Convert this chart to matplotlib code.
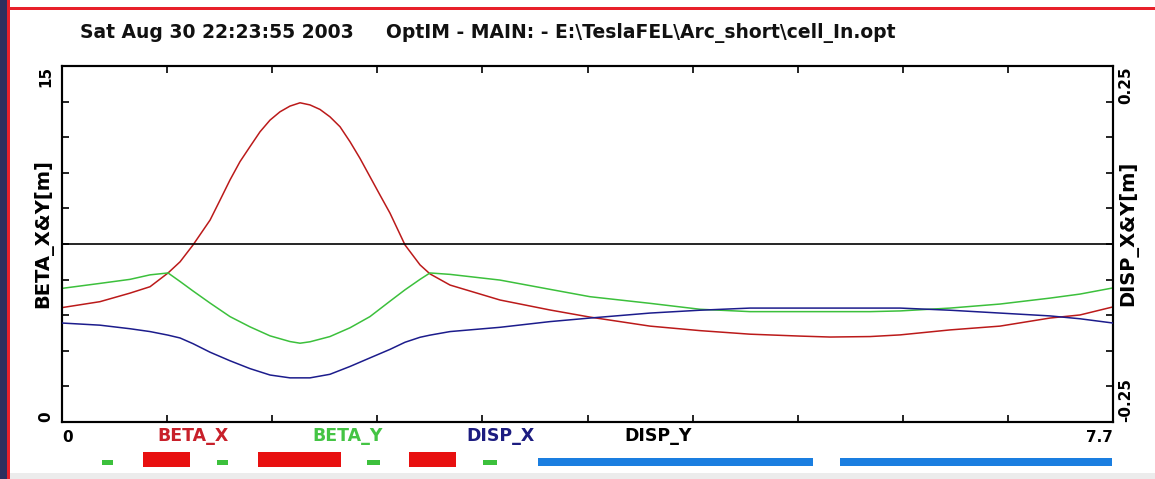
import matplotlib
matplotlib.use("Agg")
import matplotlib.pyplot as plt
from matplotlib.patches import Rectangle
import matplotlib.transforms as mtransforms
import numpy as np

# ---------------- data ----------------
s_beta_x = [0.000, 0.278, 0.498, 0.645, 0.777, 0.865, 0.960, 1.085, 1.158, 1.231,
            1.304, 1.377, 1.451, 1.524, 1.597, 1.670, 1.744, 1.817, 1.890, 1.963,
            2.037, 2.110, 2.183, 2.256, 2.330, 2.403, 2.513, 2.623, 2.696, 2.843,
            3.209, 3.575, 3.868, 4.308, 4.674, 5.041, 5.407, 5.627, 5.920, 6.140,
            6.506, 6.872, 7.238, 7.458, 7.700]
beta_x = [4.82, 5.07, 5.43, 5.70, 6.28, 6.75, 7.46, 8.51, 9.35, 10.20,
          10.97, 11.60, 12.23, 12.72, 13.07, 13.31, 13.45, 13.36, 13.17, 12.86,
          12.44, 11.81, 11.11, 10.34, 9.56, 8.80, 7.46, 6.62, 6.24, 5.77,
          5.14, 4.72, 4.42, 4.04, 3.85, 3.70, 3.62, 3.58, 3.60, 3.67,
          3.88, 4.04, 4.38, 4.51, 4.85]

s_pos = [0.000, 0.278, 0.498, 0.645, 0.777, 0.865, 0.960, 1.085, 1.231, 1.377,
         1.524, 1.670, 1.744, 1.817, 1.963, 2.110, 2.256, 2.403, 2.513, 2.623,
         2.696, 2.843, 3.209, 3.575, 3.868, 4.308, 4.674, 5.041, 5.407, 5.627,
         5.920, 6.140, 6.506, 6.872, 7.238, 7.458, 7.700]

beta_y = [5.63, 5.84, 6.01, 6.20, 6.28, 5.92, 5.52, 5.01, 4.44, 4.01,
          3.63, 3.39, 3.32, 3.38, 3.60, 3.97, 4.44, 5.09, 5.57, 6.01,
          6.28, 6.22, 5.98, 5.59, 5.28, 5.00, 4.75, 4.65, 4.65, 4.65,
          4.65, 4.68, 4.80, 4.97, 5.22, 5.39, 5.65]

disp_x = [-0.111, -0.114, -0.119, -0.123, -0.128, -0.132, -0.140, -0.152, -0.164, -0.175,
          -0.184, -0.188, -0.188, -0.188, -0.183, -0.172, -0.160, -0.148, -0.138, -0.131,
          -0.128, -0.123, -0.117, -0.109, -0.104, -0.097, -0.093, -0.090, -0.090, -0.090,
          -0.090, -0.090, -0.093, -0.097, -0.101, -0.105, -0.111]

disp_y = [0.0] * len(s_pos)

series_names = ["BETA_X", "BETA_Y", "DISP_X", "DISP_Y"]
series_colors = ["#bb1a1a", "#3cc03c", "#1c1c8c", "#000000"]
label_colors = ["#c8202a", "#44c444", "#1c1c80", "#000000"]
label_x = [0.963, 2.092, 3.216, 4.37]

# magnets: (start, end) along s
bend_dipoles = [(0.593, 0.938), (1.434, 2.044), (2.542, 2.887)]
quads = [(0.291, 0.376), (1.133, 1.216), (2.232, 2.330), (3.085, 3.187)]
long_elems = [(3.487, 5.502), (5.700, 7.690)]

s_max = 7.7
beta_max = 15.0
disp_lim = 0.25

title_left = "Sat Aug 30 22:23:55 2003"
title_right = "OptIM - MAIN: - E:\\TeslaFEL\\Arc_short\\cell_In.opt"

# ---------------- figure ----------------
W, H = 1155, 479
fig = plt.figure(figsize=(W / 100, H / 100), dpi=100)
fig.patch.set_facecolor("white")

def fx(px):
    return px / W

def fy(py):
    return 1 - py / H

# frame decorations
fig.patches.append(Rectangle((0, 0), fx(7), 1, transform=fig.transFigure,
                             facecolor="#2d2f5e", edgecolor="none", zorder=0))
fig.patches.append(Rectangle((fx(7), 0), fx(3), 1, transform=fig.transFigure,
                             facecolor="#e8202a", edgecolor="none", zorder=0))
fig.patches.append(Rectangle((fx(7), fy(10)), 1, 3 / H, transform=fig.transFigure,
                             facecolor="#e8202a", edgecolor="none", zorder=0))
fig.patches.append(Rectangle((fx(10), 0), 1, 6 / H, transform=fig.transFigure,
                             facecolor="#ececec", edgecolor="none", zorder=0))

bold = dict(family="DejaVu Sans", weight="bold")

fig.text(fx(80), fy(33), title_left, ha="left", va="center", fontsize=13.5,
         color="#111111", **bold)
fig.text(fx(386), fy(33), title_right, ha="left", va="center", fontsize=13.5,
         color="#111111", **bold)

# main axes
ax = fig.add_axes([fx(62), fy(422), (1113 - 62) / W, (422 - 66) / H])
ax2 = ax.twinx()

ax.plot(s_beta_x, beta_x, color=series_colors[0], lw=1.1, zorder=3)
ax.plot(s_pos, beta_y, color=series_colors[1], lw=1.1, zorder=3)
ax2.plot(s_pos, disp_x, color=series_colors[2], lw=1.1, zorder=3)
ax2.plot(s_pos, disp_y, color=series_colors[3], lw=1.2, zorder=3)

ax.set_xlim(0, s_max)
ax.set_ylim(0, beta_max)
ax2.set_ylim(-disp_lim, disp_lim)

xt = np.linspace(0, s_max, 11)
ax.set_xticks(xt)
ax.set_xticklabels(["0"] + [""] * 9 + ["7.7"])
yt = np.linspace(0, beta_max, 11)
ax.set_yticks(yt)
ax.set_yticklabels(["0"] + [""] * 9 + ["15"])
y2t = np.linspace(-disp_lim, disp_lim, 11)
ax2.set_yticks(y2t)
ax2.set_yticklabels(["-0.25"] + [""] * 9 + ["0.25"])

for a in (ax, ax2):
    for sp in a.spines.values():
        sp.set_linewidth(1.5)
        sp.set_color("black")

ax.tick_params(axis="x", direction="in", length=5, width=1.2, top=True,
               labelsize=11, pad=6)
ax.tick_params(axis="y", direction="in", length=5, width=1.2, labelsize=11,
               labelrotation=90, pad=6)
ax2.tick_params(axis="y", direction="in", length=5, width=1.2, labelsize=11,
                labelrotation=90, pad=4)

xl = ax.get_xticklabels()
for lab in xl:
    lab.set_fontweight("bold")
xl[0].set_ha("left")
xl[-1].set_ha("right")
yl = ax.get_yticklabels()
for lab in yl:
    lab.set_fontweight("bold")
yl[0].set_va("bottom")
yl[-1].set_va("top")
y2l = ax2.get_yticklabels()
for lab in y2l:
    lab.set_fontweight("bold")
y2l[0].set_va("bottom")
y2l[-1].set_va("top")

ax.set_ylabel("BETA_X&Y[m]", fontsize=14, **bold)
ax.yaxis.set_label_coords(-0.008, 0.53)
ax2.set_ylabel("DISP_X&Y[m]", fontsize=14, rotation=90, **bold)
ax2.yaxis.set_label_coords(1.005, 0.53)

# series labels below axes
trans = mtransforms.blended_transform_factory(ax.transData, fig.transFigure)
for name, col, xpos in zip(series_names, label_colors, label_x):
    fig.text(xpos, fy(436), name, transform=trans, ha="center", va="center",
             fontsize=12.5, color=col, **bold)

# magnet strip
axm = fig.add_axes([fx(62), fy(470), (1113 - 62) / W, 21 / H])
axm.set_xlim(0, s_max)
axm.set_ylim(-1, 1)
axm.axis("off")
for a0, a1 in bend_dipoles:
    axm.add_patch(Rectangle((a0, -0.71), a1 - a0, 1.42, facecolor="#e81010",
                            edgecolor="none"))
for a0, a1 in quads:
    axm.add_patch(Rectangle((a0, -0.55), a1 - a0, 0.55, facecolor="#3cc03c",
                            edgecolor="none"))
for a0, a1 in long_elems:
    axm.add_patch(Rectangle((a0, -0.6), a1 - a0, 0.76, facecolor="#1a7ee0",
                            edgecolor="none"))

fig.savefig("out.png", dpi=100)
